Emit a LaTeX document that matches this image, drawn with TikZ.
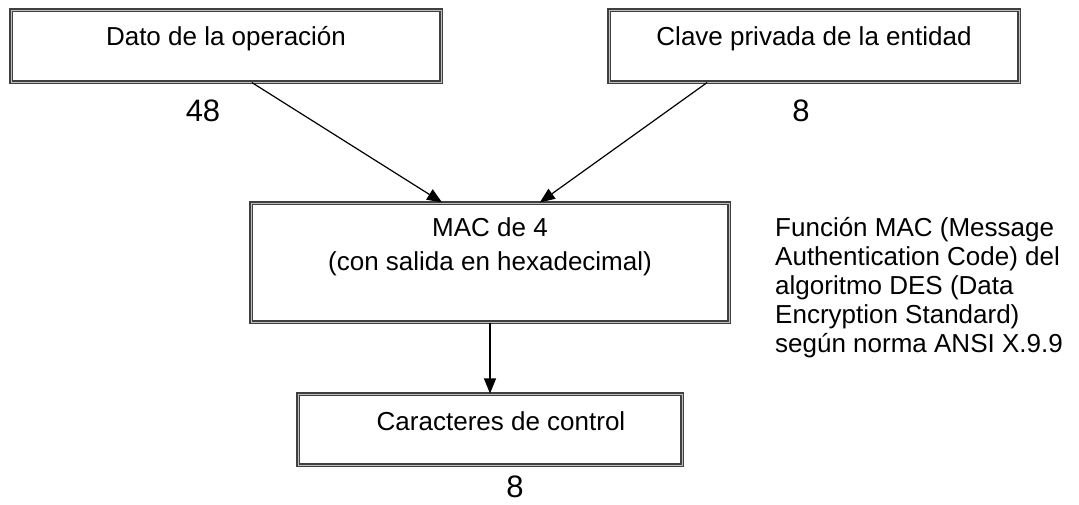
\documentclass[tikz,border=0pt]{standalone}
\usepackage{fontspec}
\setmainfont{Liberation Sans}
\usetikzlibrary{arrows.meta,calc}
\begin{document}
\begin{tikzpicture}[x=1pt,y=-1pt,
  dbox/.style={draw=black!75, line width=1.1pt, double=black!25, double distance=0.9pt, inner sep=0pt},
  txt/.style={font=\fontsize{26}{30}\selectfont, inner sep=0pt, anchor=base},
  num/.style={font=\fontsize{31}{34}\selectfont, inner sep=0pt, anchor=base},
  conn/.style={line width=1.2pt, -{Triangle[length=15pt,width=12pt]}}]
\useasboundingbox (0,0) rectangle (1079,504);
\node[dbox, minimum width=430pt, minimum height=72pt] (b1) at (226,46) {};
\node[dbox, minimum width=410pt, minimum height=72pt] (b2) at (814,46) {};
\node[dbox, minimum width=478pt, minimum height=119pt] (mac) at (490,262.5) {};
\node[dbox, minimum width=384pt, minimum height=71pt] (car) at (490,429.5) {};
\node[txt] (t1) at (226,45) {Dato de la operación};
\node[txt] (t2) at (814,45) {Clave privada de la entidad};
\node[txt, align=center, font=\fontsize{26}{34}\selectfont] (t3) at (490,270) {MAC de 4\\(con salida en hexadecimal)};
\node[txt] (t4) at (501,430) {Caracteres de control};
\node[num] (n48) at (203,121) {48};
\node[num] (n8a) at (801,121) {8};
\node[num] (n8b) at (515,497) {8};
\node[txt, anchor=base west, align=left, font=\fontsize{26}{29}\selectfont] (note) at (775,352)
  {Función MAC (Message\\Authentication Code) del\\algoritmo DES (Data\\Encryption Standard)\\según norma ANSI X.9.9};
\draw[conn] ($(b1.south west)!0.56!(b1.south east)$) -- ($(mac.north west)!0.40!(mac.north east)$);
\draw[conn] ($(b2.south west)!0.24!(b2.south east)$) -- ($(mac.north west)!0.604!(mac.north east)$);
\draw[conn] (mac.south) -- (car.north);
\end{tikzpicture}
\end{document}
